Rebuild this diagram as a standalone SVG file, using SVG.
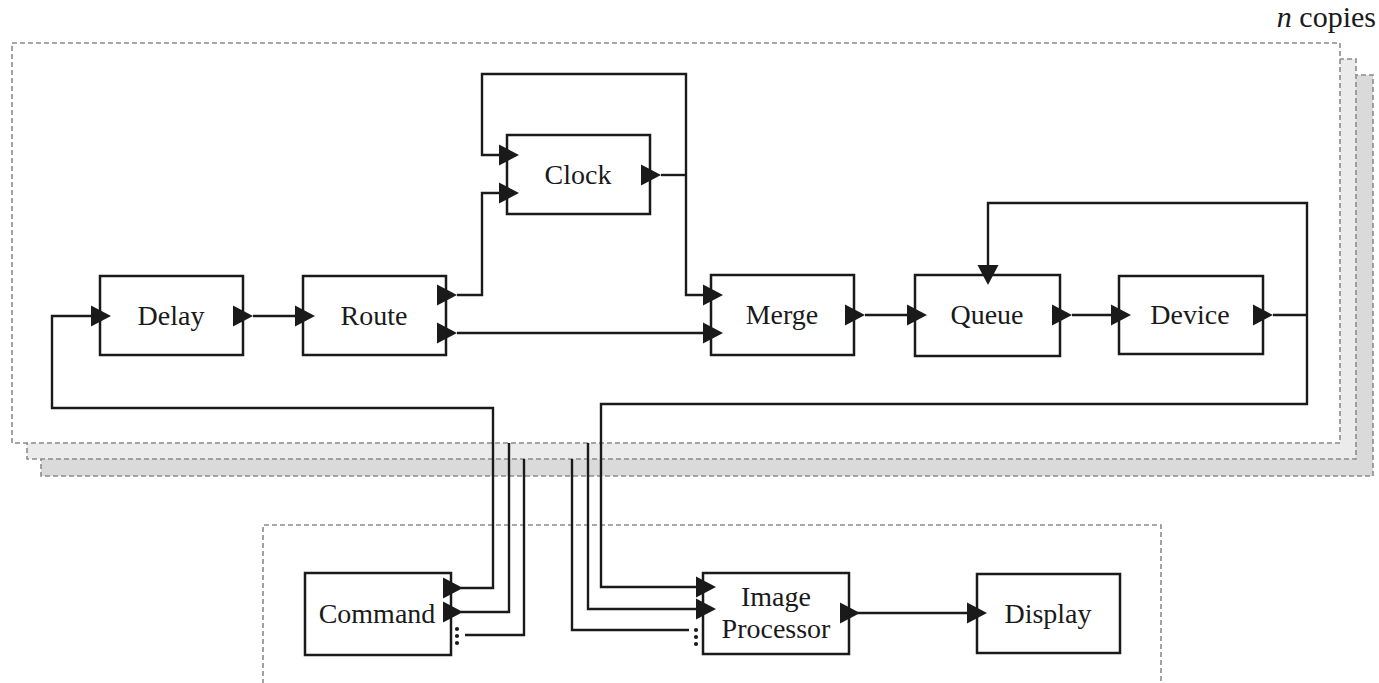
<svg xmlns="http://www.w3.org/2000/svg" xmlns:xlink="http://www.w3.org/1999/xlink" width="1379" height="683" viewBox="0 0 1379 683">
  <style>
    .frame { stroke: #8c8c8c; stroke-width: 1.6; stroke-dasharray: 5 3; }
    .box { fill: #fff; stroke: #1a1a1a; stroke-width: 2.5; }
    .wire { fill: none; stroke: #1a1a1a; stroke-width: 2.4; }
    .port { fill: #1a1a1a; }
    .lbl { font-family: "Liberation Serif", "Times New Roman", serif; font-size: 28px; fill: #1a1a1a; text-anchor: middle; }
    .note { font-family: "Liberation Serif", "Times New Roman", serif; font-size: 30px; fill: #1a1a1a; text-anchor: end; }
    .dot { fill: #1a1a1a; }
  </style>
  <defs>
    <!-- port triangle: base at x=0, tip at x=20 -->
    <polygon id="port" points="0,-10.5 20,0 0,10.5"/>
  </defs>

  <rect width="1379" height="683" fill="#fff"/>

  <!-- stacked replica frames -->
  <g id="frames">
    <rect class="frame" x="41" y="75" width="1332" height="401" fill="#dadada"/>
    <rect class="frame" x="27" y="59" width="1329" height="400" fill="#ebebeb"/>
    <rect class="frame" x="12" y="43" width="1328" height="400" fill="#ffffff"/>
    <text class="note" x="1376" y="27"><tspan font-style="italic">n</tspan> copies</text>
  </g>

  <!-- shared lower frame -->
  <g id="lower-frame">
    <path class="frame" fill="none" d="M263,700 V525 H1161 V700"/>
  </g>

  <!-- connectors -->
  <g id="connectors">
    <path class="wire" d="M253,316 H295"/>
    <path class="wire" d="M457,295 H482 V193 H499"/>
    <path class="wire" d="M457,333 H703"/>
    <path class="wire" d="M499,155 H482 V74 H686 V295 H703"/>
    <path class="wire" d="M661,175 H686"/>
    <path class="wire" d="M865,315 H907"/>
    <path class="wire" d="M1072,315 H1111"/>
    <path class="wire" d="M1273,315 H1307"/>
    <path class="wire" d="M988,268 V203 H1307 V404 H601 V587 H696"/>
    <path class="wire" d="M91,316 H52 V408 H493 V588 H461"/>
    <path class="wire" d="M461,612 H509 V443"/>
    <path class="wire" d="M465,635 H524 V459"/>
    <path class="wire" d="M696,609 H588 V443"/>
    <path class="wire" d="M689,630 H572 V459"/>
    <path class="wire" d="M857,613 H967"/>
  </g>

  <g id="delay">
    <rect class="box" x="100" y="276" width="143" height="79"/>
    <use href="#port" class="port" x="91" y="316"/>
    <use href="#port" class="port" x="233" y="316"/>
    <text class="lbl" x="171" y="325">Delay</text>
  </g>

  <g id="route">
    <rect class="box" x="303" y="276" width="143" height="79"/>
    <use href="#port" class="port" x="295" y="316"/>
    <use href="#port" class="port" x="437" y="295"/>
    <use href="#port" class="port" x="437" y="333"/>
    <text class="lbl" x="374" y="325">Route</text>
  </g>

  <g id="clock">
    <rect class="box" x="507" y="135" width="143" height="79"/>
    <use href="#port" class="port" x="499" y="155"/>
    <use href="#port" class="port" x="499" y="193"/>
    <use href="#port" class="port" x="641" y="175"/>
    <text class="lbl" x="578" y="184">Clock</text>
  </g>

  <g id="merge">
    <rect class="box" x="711" y="275" width="143" height="80"/>
    <use href="#port" class="port" x="703" y="295"/>
    <use href="#port" class="port" x="703" y="333"/>
    <use href="#port" class="port" x="845" y="315"/>
    <text class="lbl" x="782" y="324">Merge</text>
  </g>

  <g id="queue">
    <rect class="box" x="915" y="275" width="145" height="81"/>
    <use href="#port" class="port" x="907" y="315"/>
    <use href="#port" class="port" x="1052" y="315"/>
    <polygon class="port" points="977.5,265 998.5,265 988,285"/>
    <text class="lbl" x="987" y="324">Queue</text>
  </g>

  <g id="device">
    <rect class="box" x="1119" y="276" width="144" height="78"/>
    <use href="#port" class="port" x="1111" y="315"/>
    <use href="#port" class="port" x="1253" y="315"/>
    <text class="lbl" x="1190" y="324">Device</text>
  </g>

  <g id="command">
    <rect class="box" x="305" y="573" width="146" height="82"/>
    <use href="#port" class="port" x="443" y="588"/>
    <use href="#port" class="port" x="443" y="612"/>
    <circle class="dot" cx="457" cy="629" r="2.1"/>
    <circle class="dot" cx="457" cy="636" r="2.1"/>
    <circle class="dot" cx="457" cy="643" r="2.1"/>
    <text class="lbl" x="377" y="623">Command</text>
  </g>

  <g id="image-processor">
    <rect class="box" x="703" y="573" width="146" height="81"/>
    <use href="#port" class="port" x="696" y="587"/>
    <use href="#port" class="port" x="696" y="609"/>
    <use href="#port" class="port" x="840" y="613"/>
    <circle class="dot" cx="696" cy="630" r="2.1"/>
    <circle class="dot" cx="696" cy="637" r="2.1"/>
    <circle class="dot" cx="696" cy="644" r="2.1"/>
    <text class="lbl" x="776" y="606">Image</text>
    <text class="lbl" x="776" y="638">Processor</text>
  </g>

  <g id="display">
    <rect class="box" x="977" y="574" width="143" height="79"/>
    <use href="#port" class="port" x="967" y="613"/>
    <text class="lbl" x="1048" y="623">Display</text>
  </g>
</svg>
